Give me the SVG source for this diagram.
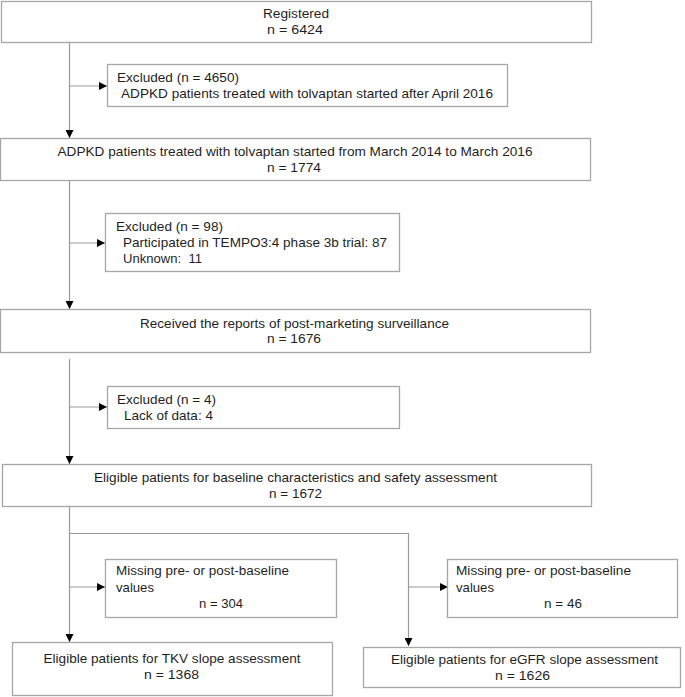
<svg xmlns="http://www.w3.org/2000/svg" width="685" height="697" viewBox="0 0 685 697">
<style>
.box{fill:#fff;stroke:#a6a6a6;stroke-width:1.3}
.ln{fill:none;stroke:#9a9a9a;stroke-width:1.2}
text{font-family:"Liberation Sans",Arial,sans-serif;font-size:13.2px;fill:#1f1f1f}
.c{text-anchor:middle}
</style>
<defs>
<marker id="ah" markerUnits="userSpaceOnUse" markerWidth="9" markerHeight="8" refX="8" refY="4" orient="auto">
<path d="M0,0 L8,4 L0,8 Z" fill="#000"/>
</marker>
</defs>
<rect width="685" height="697" fill="#fff"/>
<g id="connectors">
<path class="ln" d="M69.5,42 V138" marker-end="url(#ah)"/>
<path class="ln" d="M69.5,86 H107" marker-end="url(#ah)"/>
<path class="ln" d="M69.5,181 V309" marker-end="url(#ah)"/>
<path class="ln" d="M69.5,243 H105" marker-end="url(#ah)"/>
<path class="ln" d="M69.5,359 V464" marker-end="url(#ah)"/>
<path class="ln" d="M69.5,407 H107" marker-end="url(#ah)"/>
<path class="ln" d="M69.5,507 V642" marker-end="url(#ah)"/>
<path class="ln" d="M69.5,587 H105" marker-end="url(#ah)"/>
<path class="ln" d="M69.5,533.5 H408.5 V646" marker-end="url(#ah)"/>
<path class="ln" d="M408.5,587 H448" marker-end="url(#ah)"/>
</g>
<g id="registered">
<rect class="box" x="1.5" y="1.5" width="590" height="41"/>
<text class="c" x="296" y="18" textLength="66" lengthAdjust="spacingAndGlyphs">Registered</text>
<text class="c" x="295" y="34" textLength="56" lengthAdjust="spacingAndGlyphs">n = 6424</text>
</g>
<g id="excluded1">
<rect class="box" x="107.5" y="64.5" width="400" height="42"/>
<text x="117" y="82" textLength="122" lengthAdjust="spacingAndGlyphs">Excluded (n = 4650)</text>
<text x="121" y="98" textLength="372" lengthAdjust="spacingAndGlyphs">ADPKD patients treated with tolvaptan started after April 2016</text>
</g>
<g id="treated">
<rect class="box" x="0.5" y="138.5" width="590" height="42"/>
<text class="c" x="295" y="156" textLength="475" lengthAdjust="spacingAndGlyphs">ADPKD patients treated with tolvaptan started from March 2014 to March 2016</text>
<text class="c" x="294" y="172" textLength="54" lengthAdjust="spacingAndGlyphs">n = 1774</text>
</g>
<g id="excluded2">
<rect class="box" x="105.5" y="213.5" width="294" height="58"/>
<text x="116" y="231" textLength="107" lengthAdjust="spacingAndGlyphs">Excluded (n = 98)</text>
<text x="123" y="247" textLength="264" lengthAdjust="spacingAndGlyphs">Participated in TEMPO3:4 phase 3b trial: 87</text>
<text x="123" y="263" textLength="79" lengthAdjust="spacingAndGlyphs" xml:space="preserve">Unknown:  11</text>
</g>
<g id="received">
<rect class="box" x="0.5" y="309.5" width="590" height="43"/>
<text class="c" x="294.5" y="328" textLength="309" lengthAdjust="spacingAndGlyphs">Received the reports of post-marketing surveillance</text>
<text class="c" x="294" y="343" textLength="54" lengthAdjust="spacingAndGlyphs">n = 1676</text>
</g>
<g id="excluded3">
<rect class="box" x="107.5" y="386.5" width="292" height="42"/>
<text x="117" y="404" textLength="99" lengthAdjust="spacingAndGlyphs">Excluded (n = 4)</text>
<text x="124" y="420" textLength="89" lengthAdjust="spacingAndGlyphs">Lack of data: 4</text>
</g>
<g id="eligible">
<rect class="box" x="2.5" y="464.5" width="589" height="42"/>
<text class="c" x="295.5" y="482" textLength="403" lengthAdjust="spacingAndGlyphs">Eligible patients for baseline characteristics and safety assessment</text>
<text class="c" x="295.5" y="498" textLength="53" lengthAdjust="spacingAndGlyphs">n = 1672</text>
</g>
<g id="missing1">
<rect class="box" x="105.5" y="559.5" width="231" height="58"/>
<text x="116" y="575" textLength="173" lengthAdjust="spacingAndGlyphs">Missing pre- or post-baseline</text>
<text x="116" y="592" textLength="38" lengthAdjust="spacingAndGlyphs">values</text>
<text class="c" x="221" y="608" textLength="44" lengthAdjust="spacingAndGlyphs">n = 304</text>
</g>
<g id="missing2">
<rect class="box" x="447.5" y="559.5" width="230" height="58"/>
<text x="456" y="575" textLength="175" lengthAdjust="spacingAndGlyphs">Missing pre- or post-baseline</text>
<text x="456" y="592" textLength="38" lengthAdjust="spacingAndGlyphs">values</text>
<text class="c" x="563" y="608" textLength="38" lengthAdjust="spacingAndGlyphs">n = 46</text>
</g>
<g id="tkv">
<rect class="box" x="12.5" y="642.5" width="320" height="53"/>
<text class="c" x="172" y="663" textLength="257" lengthAdjust="spacingAndGlyphs">Eligible patients for TKV slope assessment</text>
<text class="c" x="171.5" y="679" textLength="55" lengthAdjust="spacingAndGlyphs">n = 1368</text>
</g>
<g id="egfr">
<rect class="box" x="363.5" y="647.5" width="317" height="40"/>
<text class="c" x="524.5" y="664" textLength="267" lengthAdjust="spacingAndGlyphs">Eligible patients for eGFR slope assessment</text>
<text class="c" x="522.5" y="680" textLength="55" lengthAdjust="spacingAndGlyphs">n = 1626</text>
</g>
</svg>
